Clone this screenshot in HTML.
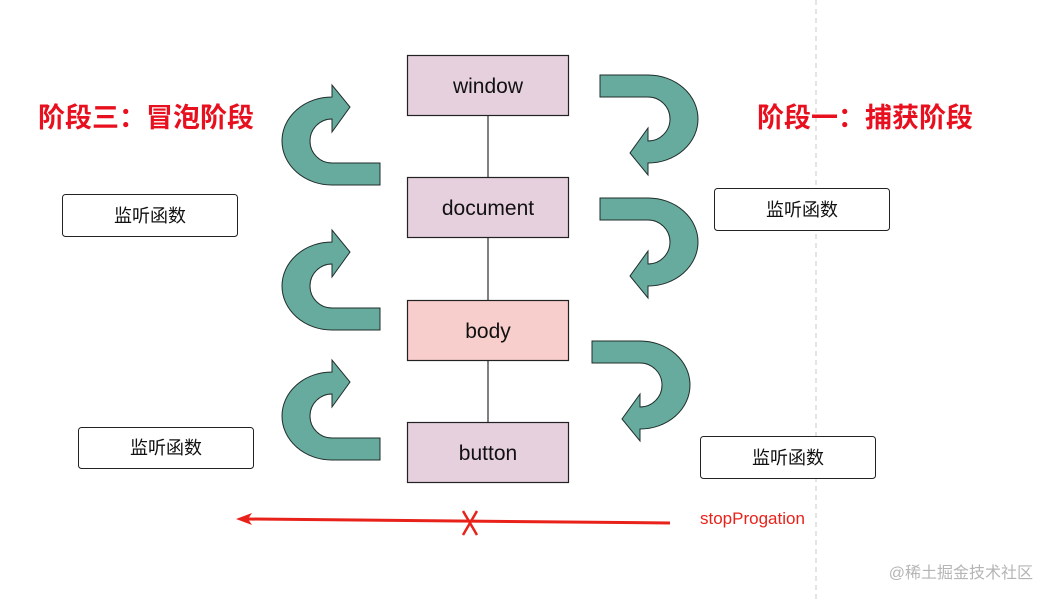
<!DOCTYPE html>
<html><head><meta charset="utf-8">
<style>
body{margin:0;background:#fff;}
svg{display:block}
</style></head><body>
<svg width="1053" height="600" viewBox="0 0 1053 600" xmlns="http://www.w3.org/2000/svg">
<defs>
<path id="ar" d="M100,78 L52,78 A22,22 0 0 1 52,34 L52,47 L70,22 L52,0 L52,12 A50,44 0 0 0 52,100 L100,100 Z" fill="#67ab9f" stroke="#1f2d2a" stroke-width="1"/>
</defs>
<line x1="816" y1="0" x2="816" y2="600" stroke="#c8c8c8" stroke-width="1" stroke-dasharray="5,4"/>
<g stroke="#000" stroke-width="1">
<line x1="488" y1="115" x2="488" y2="177"/>
<line x1="488" y1="237" x2="488" y2="300"/>
<line x1="488" y1="360" x2="488" y2="422"/>
</g>
<g stroke="#222" stroke-width="1.2">
<rect x="407.5" y="55.5" width="161" height="60" fill="#e6d0de"/>
<rect x="407.5" y="177.5" width="161" height="60" fill="#e6d0de"/>
<rect x="407.5" y="300.5" width="161" height="60" fill="#f8cecc"/>
<rect x="407.5" y="422.5" width="161" height="60" fill="#e6d0de"/>
</g>
<g font-family="Liberation Sans, sans-serif" font-size="21" text-anchor="middle" fill="#111">
<text x="488" y="93">window</text>
<text x="488" y="215">document</text>
<text x="488" y="338">body</text>
<text x="488" y="460">button</text>
</g>
<use href="#ar" transform="translate(280,85)"/>
<use href="#ar" transform="translate(280,230)"/>
<use href="#ar" transform="translate(280,360)"/>
<use href="#ar" transform="translate(700,175) rotate(180)"/>
<use href="#ar" transform="translate(700,298) rotate(180)"/>
<use href="#ar" transform="translate(692,441) rotate(180)"/>
<g fill="#fff" stroke="#222" stroke-width="1">
<rect x="62.5" y="194.5" width="175" height="42" rx="3"/>
<rect x="714.5" y="188.5" width="175" height="42" rx="3"/>
<rect x="78.5" y="427.5" width="175" height="41" rx="3"/>
<rect x="700.5" y="436.5" width="175" height="42" rx="3"/>
</g>
<g font-family="Liberation Sans, Noto Sans CJK SC, sans-serif" font-size="18" text-anchor="middle" fill="#111">
<text x="150" y="222">监听函数</text>
<text x="802" y="216">监听函数</text>
<text x="166" y="454">监听函数</text>
<text x="788" y="464">监听函数</text>
</g>
<g font-family="Liberation Sans, Noto Sans CJK SC, sans-serif" font-size="27" font-weight="bold" fill="#e8101e">
<text x="38" y="127">阶段三：冒泡阶段</text>
<text x="757" y="127">阶段一：捕获阶段</text>
</g>
<line x1="670" y1="523" x2="248" y2="519" stroke="#e8221a" stroke-width="3"/>
<path d="M236,519 L252,513 L248,519 L252,525 Z" fill="#e8221a"/>
<path d="M463,511 L477,535 M477,511 L463,535" stroke="#e8221a" stroke-width="2.5"/>
<text x="700" y="524" font-family="Liberation Sans, sans-serif" font-size="17" fill="#e8221a">stopProgation</text>
<text x="1033" y="578" text-anchor="end" font-family="Liberation Sans, Noto Sans CJK SC, sans-serif" font-size="16" fill="#b5b5b5">@稀土掘金技术社区</text>
</svg>
</body></html>
